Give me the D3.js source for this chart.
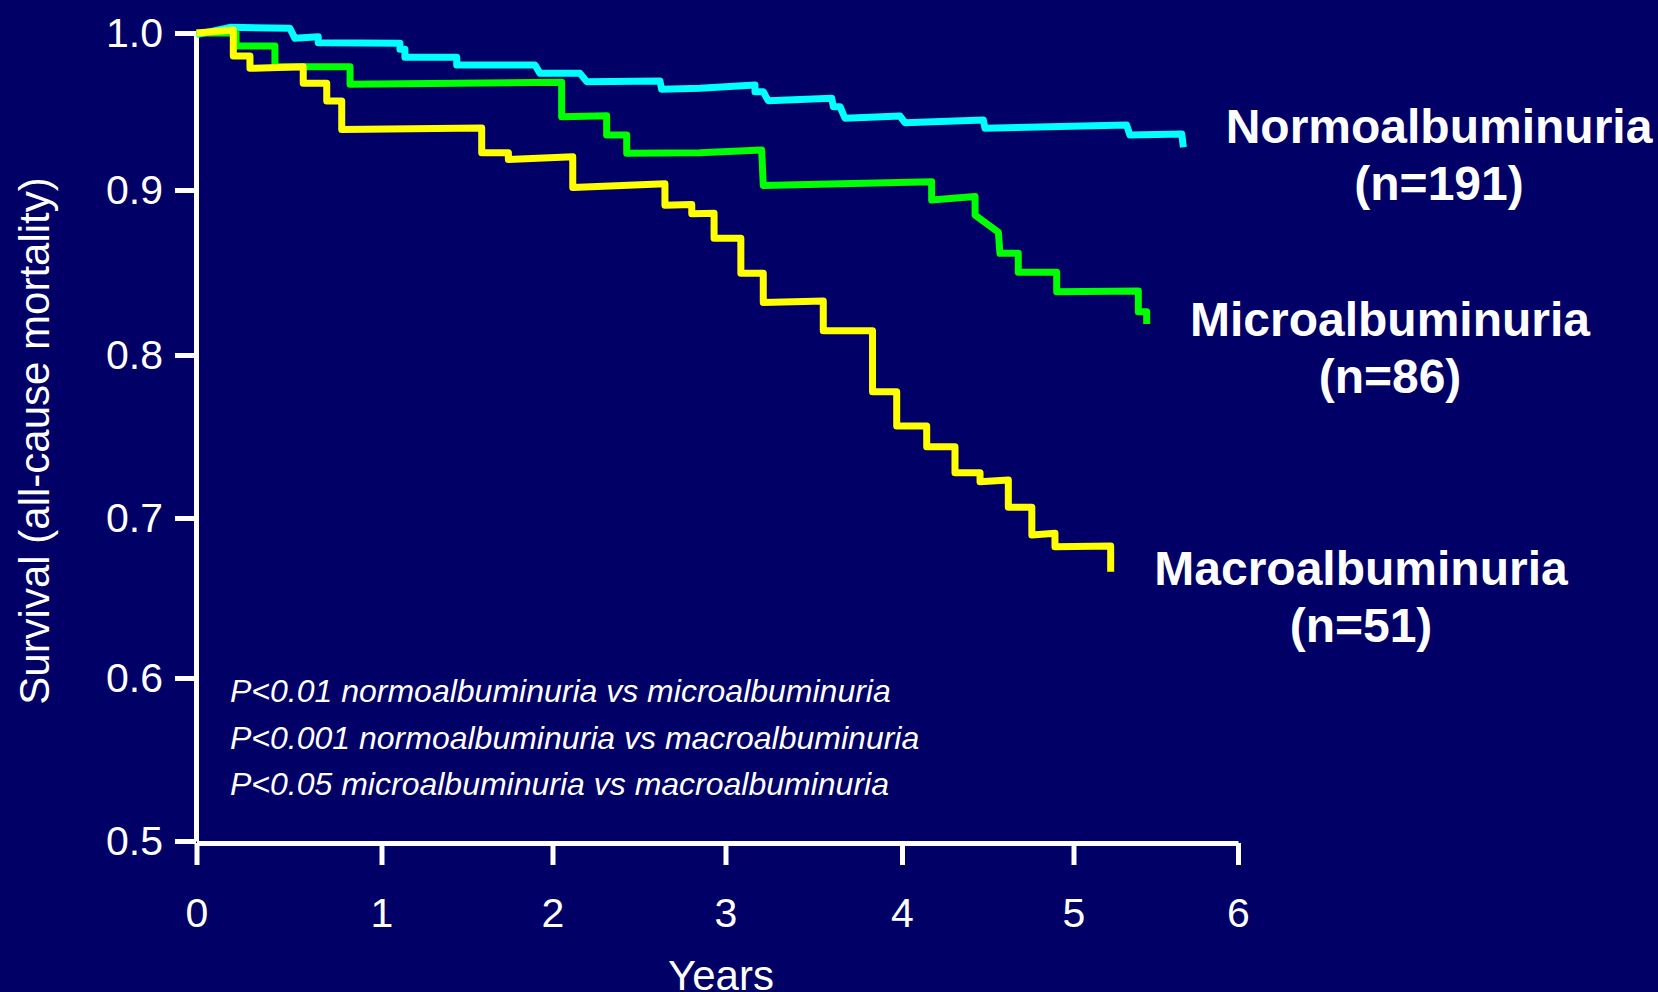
<html>
<head>
    <title>Survival by albuminuria</title>
    <style>
        body { margin: 0; background: #000066; }
        text { font-family: "Liberation Sans", Arial, sans-serif; fill: #ffffff; }
    </style>
</head>
<body>
<svg id="container" width="1658" height="992"></svg>
<script src="https://d3js.org/d3.v7.min.js"></script>
<script>
    // curve vertices (years, survival)
    let normoYears = [0, 0.181, 0.505, 0.532, 0.658, 0.658, 1.108, 1.108, 1.137, 1.137, 1.440, 1.440, 1.898, 1.927,
        2.159, 2.198, 2.621, 2.631, 2.853, 3.167, 3.167, 3.214, 3.242, 3.602, 3.611, 3.649, 3.677, 3.989,
        4.017, 4.474, 4.484, 5.323, 5.343, 5.658, 5.668]
    let normoSurv = [0.999, 1.0036, 1.003, 0.9966, 0.9976, 0.9938, 0.9934, 0.9896, 0.9896, 0.9845, 0.9845, 0.9796, 0.9796, 0.9743,
        0.9743, 0.9690, 0.9694, 0.9641, 0.9648, 0.9669, 0.9626, 0.9626, 0.9569, 0.9584, 0.9531, 0.9531, 0.9457, 0.9471,
        0.9429, 0.9446, 0.9393, 0.9414, 0.9350, 0.9357, 0.9272]

    let microYears = [0, 0.214, 0.214, 0.424, 0.424, 0.830, 0.830, 2.053, 2.053, 2.313, 2.313, 2.429, 2.429, 2.853,
        3.205, 3.214, 4.173, 4.173, 4.426, 4.426, 4.562, 4.571, 4.678, 4.678, 4.902, 4.902, 5.394, 5.394, 5.445, 5.445]
    let microSurv = [1.0, 1.0, 0.9917, 0.9917, 0.9785, 0.9785, 0.9673, 0.9686, 0.9467, 0.9473, 0.9350, 0.9350, 0.9234, 0.9238,
        0.9255, 0.9029, 0.9053, 0.8939, 0.8961, 0.8848, 0.8744, 0.8616, 0.8616, 0.8501, 0.8501, 0.8384, 0.8388, 0.8262, 0.8262, 0.8188]

    let macroYears = [0, 0.199, 0.199, 0.289, 0.289, 0.577, 0.577, 0.704, 0.704, 0.785, 0.785, 1.586, 1.586, 1.742, 1.742,
        2.117, 2.117, 2.650, 2.650, 2.805, 2.805, 2.934, 2.934, 3.087, 3.087, 3.214, 3.214, 3.554, 3.554, 3.833, 3.833,
        3.970, 3.970, 4.144, 4.144, 4.309, 4.309, 4.455, 4.455, 4.620, 4.620, 4.757, 4.757, 4.892, 4.892, 5.226, 5.226]
    let macroSurv = [1.0, 1.0019, 0.9854, 0.9854, 0.9775, 0.9785, 0.9680, 0.9680, 0.9567, 0.9567, 0.9385, 0.9395, 0.9238, 0.9238, 0.9194,
        0.9212, 0.9016, 0.9040, 0.8907, 0.8912, 0.8856, 0.8859, 0.8707, 0.8707, 0.8495, 0.8495, 0.8318, 0.8327, 0.8147, 0.8147, 0.7775,
        0.7775, 0.7564, 0.7564, 0.7437, 0.7437, 0.7278, 0.7278, 0.7222, 0.7233, 0.7066, 0.7066, 0.6894, 0.6904, 0.6821, 0.6825, 0.6664]

    let groupNames = ["Normoalbuminuria", "Microalbuminuria", "Macroalbuminuria"]
    let groupSizes = [191, 86, 51]
    let groupColors = ["#00ffff", "#00ff00", "#ffff00"]

    let xTicks = [0, 1, 2, 3, 4, 5, 6]
    let yTicks = [0.5, 0.6, 0.7, 0.8, 0.9, 1.0]

    let pNotes = [
        "P<0.01 normoalbuminuria vs microalbuminuria",
        "P<0.001 normoalbuminuria vs macroalbuminuria",
        "P<0.05 microalbuminuria vs macroalbuminuria"
    ]

    let svg = d3.select("#container")

    svg.append("rect")
        .attr("width", 1658)
        .attr("height", 992)
        .attr("fill", "#000066")

    // the slide's axes are not evenly spaced, so the scales follow the ticks
    let x = d3.scaleLinear()
        .domain(xTicks)
        .range([196.5, 381.5, 552.5, 725.5, 902, 1073.5, 1238])
    let y = d3.scaleLinear()
        .domain(yTicks)
        .range([841, 678, 518, 355, 190, 33])

    let xAxis = svg.append("g")
        .attr("transform", "translate(0,843)")
        .call(d3.axisBottom(x)
            .tickValues(xTicks)
            .tickFormat(d3.format("d"))
            .tickSize(22)
            .tickSizeOuter(0)
            .tickPadding(33))

    let yAxis = svg.append("g")
        .attr("transform", "translate(196,0)")
        .call(d3.axisLeft(y)
            .tickValues(yTicks)
            .tickFormat(d3.format(".1f"))
            .tickSize(21)
            .tickSizeOuter(0)
            .tickPadding(12))

    svg.selectAll(".domain, .tick line")
        .attr("stroke", "#ffffff")
        .attr("stroke-width", 5)
    svg.selectAll(".tick text")
        .attr("fill", "#ffffff")
        .style("font-size", "41px")
        .style("font-family", "'Liberation Sans', Arial, sans-serif")

    svg.append("text")
        .attr("x", 721)
        .attr("y", 990)
        .attr("text-anchor", "middle")
        .style("font-size", "42px")
        .text("Years")

    svg.append("text")
        .attr("transform", "translate(49,441) rotate(-90)")
        .attr("text-anchor", "middle")
        .style("font-size", "42px")
        .text("Survival (all-cause mortality)")

    // survival curves
    let series = [
        {years: normoYears, surv: normoSurv},
        {years: microYears, surv: microSurv},
        {years: macroYears, surv: macroSurv}
    ]

    let line = d3.line()
        .x(d => x(d[0]))
        .y(d => y(d[1]))

    svg.selectAll(".curve")
        .data(series)
        .enter()
        .append("path")
        .attr("class", "curve")
        .attr("d", d => line(d3.zip(d.years, d.surv)))
        .attr("fill", "none")
        .attr("stroke", (d, i) => groupColors[i])
        .attr("stroke-width", 7)
        .attr("stroke-linejoin", "round")

    // group labels next to the curve ends
    let labelX = [1439, 1390, 1361]
    let labelY = [143, 336, 585]

    let labels = svg.selectAll(".label")
        .data(groupNames)
        .enter()
        .append("text")
        .attr("class", "label")
        .attr("text-anchor", "middle")
        .style("font-size", "48px")
        .style("font-weight", "bold")
    labels.append("tspan")
        .attr("x", (d, i) => labelX[i])
        .attr("y", (d, i) => labelY[i])
        .text(d => d)
    labels.append("tspan")
        .attr("x", (d, i) => labelX[i])
        .attr("y", (d, i) => labelY[i] + 57)
        .text((d, i) => "(n=" + groupSizes[i] + ")")

    svg.selectAll(".note")
        .data(pNotes)
        .enter()
        .append("text")
        .attr("class", "note")
        .attr("x", 230)
        .attr("y", (d, i) => 702 + i * 46.5)
        .style("font-size", "32px")
        .style("font-style", "italic")
        .text(d => d)
</script>
</body>
</html>
